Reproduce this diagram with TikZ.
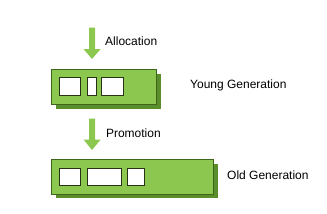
\documentclass[tikz,border=0pt]{standalone}
\usepackage{fontspec}
\setmainfont{Liberation Sans}
\usepackage{xcolor}
\definecolor{genfill}{RGB}{140,200,80}
\definecolor{genline}{RGB}{62,100,28}
\definecolor{genshadow}{RGB}{90,142,42}
\definecolor{cellline}{RGB}{40,50,20}

\begin{document}
\begin{tikzpicture}[x=1pt,y=-1pt,
  genbox/.style={fill=genfill,draw=genline,line width=1pt},
  genshade/.style={fill=genshadow},
  cellbox/.style={fill=white,draw=cellline,line width=0.9pt},
  flowarrow/.style={fill=genfill},
  caption/.style={anchor=base west,inner sep=0pt,font=\fontsize{12}{14}\selectfont}]
\useasboundingbox (0,0) rectangle (327,214);

%% young generation
\fill[genshade] (55.5,73.8) rectangle (161.2,109.3);
\draw[genbox] (51.5,69.8) rectangle (156.7,104.8);
\draw[cellbox] (59.2,77.3) rectangle (80.7,95.8);
\draw[cellbox] (87.7,77.3) rectangle (96.2,95.8);
\draw[cellbox] (101.2,77.3) rectangle (123.3,95.8);

%% old generation
\fill[genshade] (55.5,163.5) rectangle (217.8,198.3);
\draw[genbox] (51.5,159.5) rectangle (213.2,194);
\draw[cellbox] (59.2,168.3) rectangle (80.7,185.5);
\draw[cellbox] (87.7,168.3) rectangle (121,185.5);
\draw[cellbox] (127.3,168.3) rectangle (144.3,185.5);

%% arrows
\fill[flowarrow] (89,27.7) -- (95,27.7) -- (95,49) -- (100.7,49) -- (92,59)
  -- (83.5,49) -- (89,49) -- cycle;
\fill[flowarrow] (89,118.7) -- (95,118.7) -- (95,139.5) -- (100.7,139.5) -- (92,150)
  -- (83.5,139.5) -- (89,139.5) -- cycle;

%% labels
\node[caption] (alloc) at (105,45.8) {Allocation};
\node[caption] (promo) at (105.8,137.3) {Promotion};
\node[caption] (young) at (190,88.8) {Young Generation};
\node[caption] (old) at (227,179.3) {Old Generation};
\end{tikzpicture}
\end{document}
